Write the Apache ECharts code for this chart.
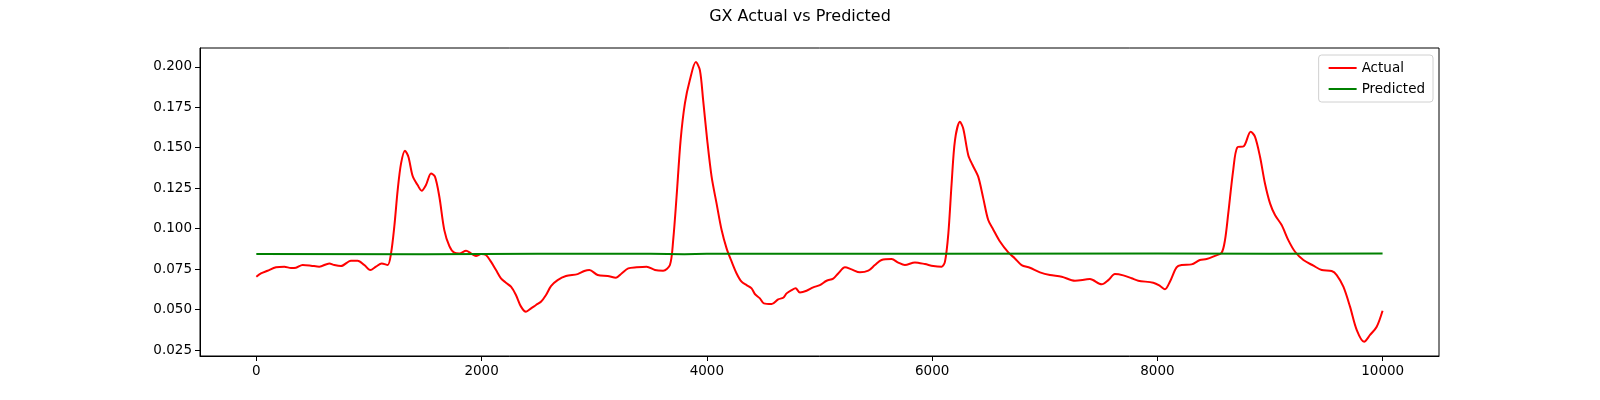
<!DOCTYPE html>
<html>
<head>
<meta charset="utf-8">
<script src="https://cdn.jsdelivr.net/npm/echarts@6/dist/echarts.min.js"></script>
<style>
html,body{margin:0;padding:0;background:#fff;}
#chart{width:1600px;height:400px;}
</style>
</head>
<body>
<div id="chart"></div>
<script>
const titleText = 'GX Actual vs Predicted';
const seriesNames = ['Actual', 'Predicted'];
const xTicks = [0, 2000, 4000, 6000, 8000, 10000];
const yTicks = [0.025, 0.050, 0.075, 0.100, 0.125, 0.150, 0.175, 0.200];

const actualX = [0,41,100,175,249,308,352,411,485,559,648,693,752,840,900,959,1012,1062,1113,1166,1196,1225,1255,1285,1320,1350,1388,1432,1468,1506,1551,1586,1625,1669,1714,1758,1803,1862,1906,1950,1995,2039,2083,2128,2172,2216,2261,2305,2350,2394,2439,2483,2527,2572,2616,2675,2749,2853,2912,2957,3031,3120,3193,3243,3302,3376,3465,3539,3612,3672,3701,3731,3767,3805,3849,3902,3938,3967,4003,4042,4086,4131,4175,4220,4264,4308,4353,4397,4426,4471,4506,4575,4633,4678,4708,4752,4788,4826,4885,4944,5003,5063,5122,5166,5226,5285,5359,5433,5492,5551,5640,5699,5758,5847,5936,6010,6084,6114,6144,6173,6203,6247,6276,6321,6359,6409,6454,6498,6542,6602,6676,6735,6794,6868,6957,7046,7150,7268,7401,7505,7564,7623,7697,7771,7830,7963,8022,8067,8111,8170,8215,8303,8377,8437,8511,8570,8600,8629,8673,8709,8768,8828,8866,8911,8955,9000,9044,9103,9162,9222,9296,9385,9459,9547,9592,9651,9710,9770,9835,9888,9947,9999];
const actualY = [0.0703,0.0723,0.0740,0.0761,0.0765,0.0756,0.0758,0.0775,0.0771,0.0765,0.0785,0.0775,0.0769,0.0802,0.0802,0.0775,0.0744,0.0765,0.0785,0.0775,0.0847,0.1012,0.1238,0.1403,0.1481,0.1444,0.1325,0.1269,0.1234,0.1269,0.1341,0.1321,0.1197,0.0991,0.0892,0.0851,0.0847,0.0863,0.0847,0.0831,0.0843,0.0837,0.0796,0.0744,0.0693,0.0666,0.0641,0.0590,0.0518,0.0487,0.0507,0.0528,0.0548,0.0590,0.0645,0.0682,0.0707,0.0719,0.0738,0.0744,0.0713,0.0707,0.0697,0.0723,0.0754,0.0761,0.0765,0.0744,0.0740,0.0775,0.0929,0.1197,0.1547,0.1774,0.1918,0.2029,0.1979,0.1794,0.1547,0.1321,0.1156,0.0991,0.0878,0.0796,0.0723,0.0672,0.0651,0.0631,0.0596,0.0569,0.0538,0.0534,0.0563,0.0573,0.0600,0.0620,0.0631,0.0606,0.0616,0.0637,0.0651,0.0678,0.0691,0.0723,0.0761,0.0748,0.0730,0.0740,0.0775,0.0806,0.0812,0.0790,0.0775,0.0791,0.0781,0.0769,0.0765,0.0796,0.0971,0.1279,0.1547,0.1660,0.1619,0.1454,0.1393,0.1321,0.1187,0.1053,0.0995,0.0920,0.0853,0.0816,0.0775,0.0758,0.0730,0.0713,0.0703,0.0678,0.0688,0.0656,0.0682,0.0719,0.0711,0.0693,0.0678,0.0666,0.0647,0.0625,0.0672,0.0761,0.0775,0.0779,0.0806,0.0812,0.0832,0.0851,0.0929,0.1094,0.1362,0.1502,0.1510,0.1599,0.1568,0.1444,0.1279,0.1156,0.1084,0.1022,0.0929,0.0857,0.0806,0.0771,0.0744,0.0738,0.0713,0.0641,0.0518,0.0373,0.0301,0.0343,0.0394,0.0493];

const predictedX = [0,1500,2500,3500,3800,4000,6000,8000,9000,9999];
const predictedY = [0.0843,0.0842,0.0845,0.0844,0.0841,0.0845,0.0845,0.0846,0.0845,0.0846];

const toPairs = (xs, ys) => xs.map((x, i) => [x, ys[i]]);

const font = 'DejaVu Sans';
const chart = echarts.init(document.getElementById('chart'), null, {renderer: 'canvas'});
chart.setOption({
  animation: false,
  backgroundColor: '#fff',
  title: {
    text: titleText, left: 'center', top: 4,
    textStyle: {fontFamily: font, fontSize: 16, fontWeight: 'normal', color: '#000'}
  },
  legend: {
    orient: 'vertical', right: 167, top: 55,
    data: seriesNames,
    icon: 'rect', itemWidth: 28, itemHeight: 2, itemGap: 7,
    backgroundColor: '#fff', borderColor: '#d0d0d0', borderWidth: 1, borderRadius: 3,
    padding: [6, 8, 6, 10],
    textStyle: {fontFamily: font, fontSize: 13.5, color: '#000'}
  },
  grid: {left: 200, right: 161, top: 48, bottom: 44, show: true, borderColor: '#000', borderWidth: 1, containLabel: false},
  xAxis: {
    type: 'value', min: -500, max: 10500,
    splitLine: {show: false},
    axisLine: {show: true, onZero: false, lineStyle: {color: '#000', width: 1}},
    axisTick: {show: true, inside: false, length: 5, lineStyle: {color: '#000'}, customValues: xTicks},
    axisLabel: {fontFamily: font, fontSize: 13.5, color: '#000', margin: 8, customValues: xTicks,
      formatter: v => String(Math.round(v))}
  },
  yAxis: {
    type: 'value', min: 0.0213, max: 0.2116,
    splitLine: {show: false},
    axisLine: {show: true, onZero: false, lineStyle: {color: '#000', width: 1}},
    axisTick: {show: true, inside: false, length: 5, lineStyle: {color: '#000'}, customValues: yTicks},
    axisLabel: {fontFamily: font, fontSize: 13.5, color: '#000', margin: 8, customValues: yTicks,
      formatter: v => v.toFixed(3)}
  },
  series: [
    {name: seriesNames[0], type: 'line', data: toPairs(actualX, actualY), showSymbol: false, symbol: 'none',
      smooth: 0.3, lineStyle: {color: '#ff0000', width: 2}, itemStyle: {color: '#ff0000'}},
    {name: seriesNames[1], type: 'line', data: toPairs(predictedX, predictedY), showSymbol: false, symbol: 'none',
      lineStyle: {color: '#008000', width: 2}, itemStyle: {color: '#008000'}}
  ]
});
</script>
</body>
</html>
